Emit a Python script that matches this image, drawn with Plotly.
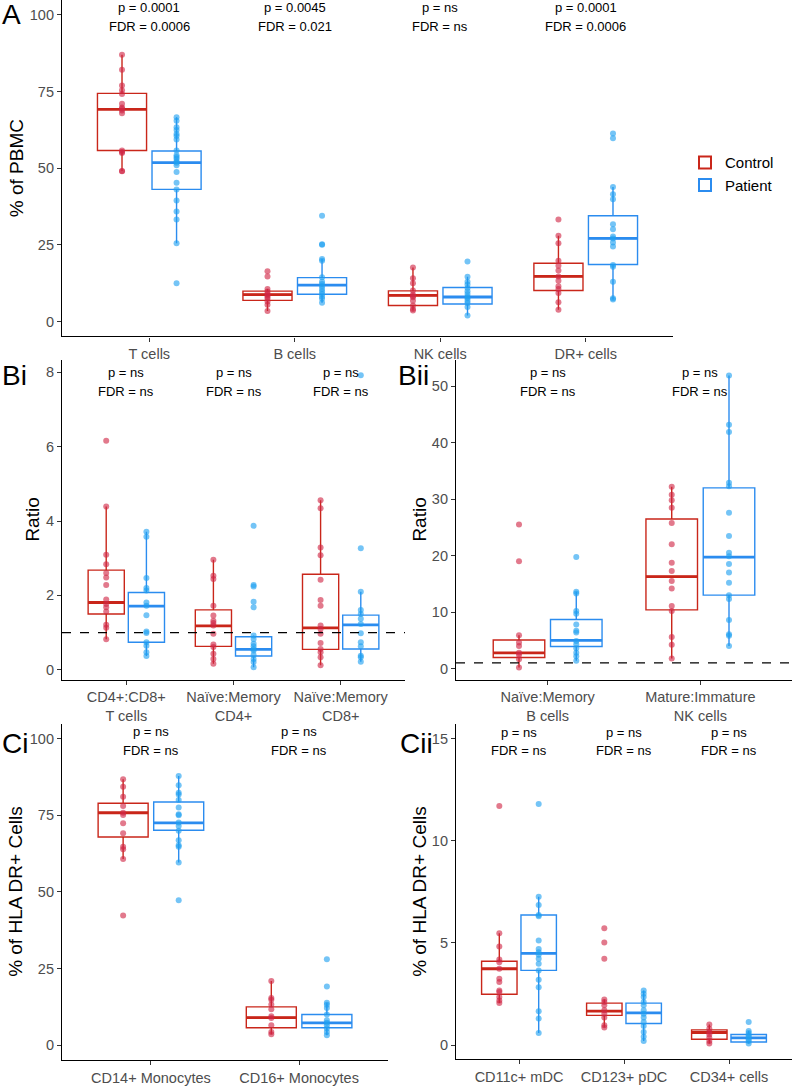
import plotly.graph_objects as go

# ---------------- data ----------------
# Panel A
a_cats = ["T cells", "B cells", "NK cells", "DR+ cells"]
a_ctrl_pts = [
    [87.0, 82.1, 77.0, 75.4, 74.2, 71.0, 69.8, 69.4, 68.8, 67.9, 55.8, 55.3, 55.0, 49.1, 49.0],
    [16.4, 14.7, 10.6, 9.8, 9.0, 8.6, 8.1, 7.4, 6.5, 5.5, 3.4],
    [17.6, 14.1, 12.5, 10.1, 8.7, 8.3, 7.9, 6.8, 5.2, 4.1, 3.6],
    [33.3, 28.0, 25.5, 19.8, 18.2, 16.6, 14.7, 13.3, 11.5, 10.6, 9.3, 6.3, 3.8],
]
a_pat_pts = [
    [66.6, 65.5, 63.4, 62.5, 61.2, 60.5, 59.4, 55.8, 54.2, 53.7, 53.1, 52.3, 51.8, 51.0,
     48.8, 45.3, 43.1, 39.5, 35.9, 33.3, 25.5, 12.5],
    [34.5, 25.2, 25.0, 20.4, 19.8, 14.4, 13.0, 12.2, 11.5, 10.6, 9.8, 9.0, 8.1, 7.4, 6.1],
    [19.6, 14.6, 13.0, 12.1, 10.9, 9.9, 9.0, 8.1, 7.6, 6.8, 6.0, 4.7, 1.95],
    [61.3, 59.8, 43.9, 41.5, 39.9, 31.7, 30.1, 27.7, 27.1, 25.8, 24.5, 18.4, 17.9, 13.0, 7.6, 7.2],
]
a_ctrl_q1 = [55.8, 6.9, 5.2, 10.1]
a_ctrl_med = [69.2, 8.8, 8.5, 14.7]
a_ctrl_q3 = [74.4, 9.9, 10.0, 19.0]
a_ctrl_lo = [49.1, 3.4, 3.6, 3.8]
a_ctrl_hi = [87.0, 10.6, 17.6, 28.0]
a_pat_q1 = [43.1, 8.9, 5.7, 18.6]
a_pat_med = [51.8, 11.9, 8.0, 27.1]
a_pat_q3 = [55.6, 14.3, 11.1, 34.5]
a_pat_lo = [25.5, 6.1, 1.95, 7.2]
a_pat_hi = [66.6, 20.4, 14.6, 43.9]
a_p = ["p = 0.0001", "p = 0.0045", "p = ns", "p = 0.0001"]
a_fdr = ["FDR = 0.0006", "FDR = 0.021", "FDR = ns", "FDR = 0.0006"]

# Panel Bi
bi_cats = ["CD4+:CD8+<br>T cells", "Naïve:Memory<br>CD4+", "Naïve:Memory<br>CD8+"]
bi_ctrl_pts = [
    [6.16, 4.39, 3.09, 2.84, 2.60, 2.48, 2.28, 1.89, 1.77, 1.68, 1.57, 1.21, 1.13, 0.82],
    [2.96, 2.53, 2.44, 1.72, 1.46, 1.32, 1.26, 1.19, 0.97, 0.68, 0.61, 0.43, 0.29, 0.16],
    [4.56, 4.34, 3.29, 3.08, 2.42, 1.88, 1.72, 1.19, 1.10, 0.97, 0.72, 0.56, 0.47, 0.34, 0.12],
]
bi_pat_pts = [
    [3.71, 3.58, 2.47, 2.20, 2.13, 1.81, 1.72, 1.47, 1.03, 0.99, 0.74, 0.65, 0.47, 0.37],
    [3.87, 2.28, 2.24, 1.83, 1.68, 0.92, 0.83, 0.70, 0.63, 0.56, 0.52, 0.40, 0.29, 0.21, 0.07],
    [7.92, 3.27, 2.10, 1.61, 1.50, 1.37, 1.23, 0.98, 0.74, 0.63, 0.38, 0.34, 0.22],
]
bi_ctrl_q1 = [1.50, 0.63, 0.55]
bi_ctrl_med = [1.81, 1.18, 1.13]
bi_ctrl_q3 = [2.68, 1.61, 2.57]
bi_ctrl_lo = [0.82, 0.16, 0.12]
bi_ctrl_hi = [4.39, 2.96, 4.56]
bi_pat_q1 = [0.74, 0.37, 0.56]
bi_pat_med = [1.71, 0.55, 1.21]
bi_pat_q3 = [2.08, 0.89, 1.47]
bi_pat_lo = [0.37, 0.07, 0.22]
bi_pat_hi = [3.71, 0.92, 2.10]
bi_p = ["p = ns", "p = ns", "p = ns"]
bi_fdr = ["FDR = ns", "FDR = ns", "FDR = ns"]

# Panel Bii
bii_cats = ["Naïve:Memory<br>B cells", "Mature:Immature<br>NK cells"]
bii_ctrl_pts = [
    [25.5, 19.0, 5.9, 4.6, 4.0, 2.8, 2.4, 1.65, 0.2],
    [32.2, 30.8, 29.8, 28.5, 25.8, 22.0, 18.75, 17.3, 15.5, 14.2, 11.1, 10.2, 5.6, 4.2, 1.8],
]
bii_pat_pts = [
    [19.75, 13.6, 13.3, 10.2, 9.7, 7.8, 6.7, 6.4, 4.9, 4.3, 3.6, 2.8, 2.2, 1.4],
    [51.9, 43.2, 41.9, 32.9, 32.3, 27.6, 23.5, 20.5, 19.9, 18.5, 17.0, 15.2, 13.0, 12.3,
     8.6, 6.1, 5.8, 4.0],
]
bii_ctrl_q1 = [1.95, 10.4]
bii_ctrl_med = [2.77, 16.3]
bii_ctrl_q3 = [5.07, 26.5]
bii_ctrl_lo = [0.2, 1.8]
bii_ctrl_hi = [5.9, 32.2]
bii_pat_q1 = [3.9, 13.0]
bii_pat_med = [5.0, 19.75]
bii_pat_q3 = [8.7, 32.0]
bii_pat_lo = [1.4, 4.0]
bii_pat_hi = [13.6, 51.9]
bii_p = ["p = ns", "p = ns"]
bii_fdr = ["FDR = ns", "FDR = ns"]

# Panel Ci
ci_cats = ["CD14+ Monocytes", "CD16+ Monocytes"]
ci_ctrl_pts = [
    [86.7, 84.3, 81.0, 78.0, 75.8, 75.1, 72.4, 69.1, 64.7, 63.9, 60.7, 42.3],
    [20.9, 15.4, 14.8, 13.3, 11.7, 9.4, 8.9, 6.5, 4.3, 3.6],
]
ci_pat_pts = [
    [87.8, 84.8, 82.3, 81.8, 80.0, 77.5, 75.3, 75.0, 72.6, 71.5, 69.9, 66.8, 65.2, 64.7, 59.6, 47.3],
    [28.0, 19.1, 13.8, 13.2, 12.1, 10.0, 8.1, 7.3, 6.5, 5.4, 4.3, 3.25],
]
ci_ctrl_q1 = [67.9, 5.7]
ci_ctrl_med = [75.8, 9.0]
ci_ctrl_q3 = [78.9, 12.5]
ci_ctrl_lo = [60.7, 3.6]
ci_ctrl_hi = [86.7, 20.9]
ci_pat_q1 = [70.1, 5.7]
ci_pat_med = [72.5, 7.3]
ci_pat_q3 = [79.3, 10.0]
ci_pat_lo = [59.6, 3.25]
ci_pat_hi = [87.8, 13.8]
ci_p = ["p = ns", "p = ns"]
ci_fdr = ["FDR = ns", "FDR = ns"]

# Panel Cii
cii_cats = ["CD11c+ mDC", "CD123+ pDC", "CD34+ cells"]
cii_ctrl_pts = [
    [11.7, 5.48, 4.83, 4.19, 4.06, 3.74, 3.25, 3.09, 2.68, 2.60, 2.36, 2.19, 2.06],
    [5.72, 5.02, 4.23, 2.23, 2.11, 1.95, 1.71, 1.54, 1.35, 0.98, 0.86],
    [1.01, 0.81, 0.65, 0.52, 0.36, 0.20, 0.08],
]
cii_pat_pts = [
    [11.8, 7.26, 6.86, 6.37, 6.31, 5.12, 4.71, 4.55, 4.42, 4.23, 3.98, 3.66, 3.20, 2.84,
     1.66, 1.30, 0.60],
    [2.68, 2.52, 2.36, 2.11, 1.95, 1.71, 1.54, 1.35, 1.14, 0.94, 0.65, 0.41, 0.20],
    [1.14, 0.70, 0.60, 0.49, 0.41, 0.29, 0.20, 0.08],
]
cii_ctrl_q1 = [2.49, 1.46, 0.29]
cii_ctrl_med = [3.74, 1.67, 0.62]
cii_ctrl_q3 = [4.11, 2.06, 0.75]
cii_ctrl_lo = [2.06, 0.86, 0.08]
cii_ctrl_hi = [5.48, 2.23, 1.01]
cii_pat_q1 = [3.66, 1.06, 0.16]
cii_pat_med = [4.49, 1.58, 0.36]
cii_pat_q3 = [6.37, 2.06, 0.52]
cii_pat_lo = [0.60, 0.20, 0.08]
cii_pat_hi = [7.26, 2.68, 0.70]
cii_p = ["p = ns", "p = ns", "p = ns"]
cii_fdr = ["FDR = ns", "FDR = ns", "FDR = ns"]

groups = ["Control", "Patient"]

# ---------------- styling ----------------
W, H = 792, 1086
FONT = "Liberation Sans, Arial, sans-serif"
LINE_C = {"Control": "#C9261A", "Patient": "#2B8CEF"}
PT_C = {"Control": "rgba(208, 38, 70, 0.62)", "Patient": "rgba(30, 160, 240, 0.62)"}
TICK_C = "#4D4D4D"

fig = go.Figure()


def ax_names(i):
    s = "" if i == 1 else str(i)
    return "x" + s, "y" + s


def add_group(i, cats, pts, q1, med, q3, lo, hi, name, show):
    xa, ya = ax_names(i)
    fig.add_trace(go.Box(
        x=cats, q1=q1, median=med, q3=q3, lowerfence=lo, upperfence=hi,
        orientation="v", name=name, legendgroup=name, showlegend=show,
        offsetgroup=name, boxpoints=False, whiskerwidth=0,
        line=dict(color=LINE_C[name], width=1.4),
        fillcolor="rgba(255,255,255,0)", hoverinfo="skip",
        xaxis=xa, yaxis=ya))
    # thicker median line
    fig.add_trace(go.Box(
        x=cats, q1=med, median=med, q3=med, lowerfence=med, upperfence=med,
        orientation="v", name=name, legendgroup=name, showlegend=False,
        offsetgroup=name, boxpoints=False, whiskerwidth=0,
        line=dict(color=LINE_C[name], width=2.8),
        fillcolor="rgba(255,255,255,0)", hoverinfo="skip",
        xaxis=xa, yaxis=ya))
    xs = [c for c, p in zip(cats, pts) for _ in p]
    ys = [v for p in pts for v in p]
    fig.add_trace(go.Box(
        x=xs, y=ys, name=name, legendgroup=name, showlegend=False,
        offsetgroup=name, boxpoints="all", jitter=0, pointpos=0, whiskerwidth=0,
        line=dict(color="rgba(0,0,0,0)", width=0),
        fillcolor="rgba(0,0,0,0)",
        marker=dict(color=PT_C[name], size=6, line=dict(width=0)),
        xaxis=xa, yaxis=ya))


panels = [
    (1, a_cats, a_ctrl_pts, a_ctrl_q1, a_ctrl_med, a_ctrl_q3, a_ctrl_lo, a_ctrl_hi,
     a_pat_pts, a_pat_q1, a_pat_med, a_pat_q3, a_pat_lo, a_pat_hi),
    (2, bi_cats, bi_ctrl_pts, bi_ctrl_q1, bi_ctrl_med, bi_ctrl_q3, bi_ctrl_lo, bi_ctrl_hi,
     bi_pat_pts, bi_pat_q1, bi_pat_med, bi_pat_q3, bi_pat_lo, bi_pat_hi),
    (3, bii_cats, bii_ctrl_pts, bii_ctrl_q1, bii_ctrl_med, bii_ctrl_q3, bii_ctrl_lo, bii_ctrl_hi,
     bii_pat_pts, bii_pat_q1, bii_pat_med, bii_pat_q3, bii_pat_lo, bii_pat_hi),
    (4, ci_cats, ci_ctrl_pts, ci_ctrl_q1, ci_ctrl_med, ci_ctrl_q3, ci_ctrl_lo, ci_ctrl_hi,
     ci_pat_pts, ci_pat_q1, ci_pat_med, ci_pat_q3, ci_pat_lo, ci_pat_hi),
    (5, cii_cats, cii_ctrl_pts, cii_ctrl_q1, cii_ctrl_med, cii_ctrl_q3, cii_ctrl_lo, cii_ctrl_hi,
     cii_pat_pts, cii_pat_q1, cii_pat_med, cii_pat_q3, cii_pat_lo, cii_pat_hi),
]

for p in panels:
    i, cats = p[0], p[1]
    add_group(i, cats, p[2], p[3], p[4], p[5], p[6], p[7], "Control", i == 1)
    add_group(i, cats, p[8], p[9], p[10], p[11], p[12], p[13], "Patient", i == 1)

# ---------------- layout geometry (pixels) ----------------
def xd(a, b):
    return [a / W, b / W]


def yd(top, bottom):
    return [1 - bottom / H, 1 - top / H]


axis_geo = {
    1: dict(xdom=xd(62, 673), ydom=yd(0, 338), yr=[-4.87, 104.87], tv=[0, 25, 50, 75, 100], n=4),
    2: dict(xdom=xd(62, 405), ydom=yd(362, 683), yr=[-0.27, 8.32], tv=[0, 2, 4, 6, 8], n=3),
    3: dict(xdom=xd(456, 792), ydom=yd(362, 683), yr=[-2.0, 54.6], tv=[0, 10, 20, 30, 40, 50], n=2),
    4: dict(xdom=xd(62, 388), ydom=yd(727, 1065), yr=[-4.87, 104.87], tv=[0, 25, 50, 75, 100], n=2),
    5: dict(xdom=xd(456, 792), ydom=yd(727, 1064), yr=[-0.68, 15.73], tv=[0, 5, 10, 15], n=3),
}
cat_lists = {1: a_cats, 2: bi_cats, 3: bii_cats, 4: ci_cats, 5: cii_cats}

layout = dict(
    width=W, height=H, margin=dict(l=0, r=0, t=0, b=0),
    paper_bgcolor="white", plot_bgcolor="white",
    font=dict(family=FONT, color="black"),
    boxmode="group", boxgap=0.25, boxgroupgap=0.1,
    showlegend=True,
    legend=dict(x=685 / W, y=1 - 147 / H, xanchor="left", yanchor="top",
                font=dict(size=15, color="black", family=FONT),
                bgcolor="rgba(0,0,0,0)", tracegroupgap=0, itemsizing="constant"),
)
for i, g in axis_geo.items():
    s = "" if i == 1 else str(i)
    layout["xaxis" + s] = dict(
        domain=g["xdom"], anchor="y" + s, type="category",
        categoryorder="array", categoryarray=cat_lists[i],
        range=[-0.6, g["n"] - 0.4],
        showline=True, linecolor="black", linewidth=1.2,
        ticks="outside", ticklen=4, tickwidth=1.1, tickcolor="#333333",
        showgrid=False, zeroline=False, fixedrange=True,
        tickfont=dict(size=14.5, color=TICK_C, family=FONT))
    layout["yaxis" + s] = dict(
        domain=g["ydom"], anchor="x" + s, range=g["yr"],
        tickvals=g["tv"], ticktext=[str(v) for v in g["tv"]],
        showline=True, linecolor="black", linewidth=1.2,
        ticks="outside", ticklen=4, tickwidth=1.1, tickcolor="#333333",
        showgrid=False, zeroline=False, fixedrange=True,
        tickfont=dict(size=14.5, color=TICK_C, family=FONT))

fig.update_layout(**layout)

# dashed reference line at ratio = 1
for i in (2, 3):
    fig.add_shape(type="line", xref=f"x{i} domain", yref=f"y{i}", x0=0, x1=1, y0=1, y1=1,
                  line=dict(color="black", width=1.1, dash="dash"))

# p / FDR labels
stat_text = {1: (a_p, a_fdr, 102.3, 96.1), 2: (bi_p, bi_fdr, 8.0, 7.49),
             3: (bii_p, bii_fdr, 52.5, 49.1), 4: (ci_p, ci_fdr, 102.3, 96.1),
             5: (cii_p, cii_fdr, 15.3, 14.4)}
for i, (ps, fs, yp, yf) in stat_text.items():
    s = "" if i == 1 else str(i)
    for c, pt, ft in zip(cat_lists[i], ps, fs):
        for txt, yy in ((pt, yp), (ft, yf)):
            fig.add_annotation(x=c, y=yy, xref="x" + s, yref="y" + s, text=txt,
                               showarrow=False, xanchor="center", yanchor="middle",
                               font=dict(size=13, color="black", family=FONT))

# axis titles
titles = [("% of PBMC", 16, 169), ("Ratio", 33, 522), ("Ratio", 420, 522),
          ("% of HLA DR+ Cells", 16, 896), ("% of HLA DR+ Cells", 420, 896)]
for txt, px, py in titles:
    fig.add_annotation(x=px / W, y=1 - py / H, xref="paper", yref="paper", text=txt,
                       showarrow=False, textangle=-90, xanchor="center", yanchor="middle",
                       font=dict(size=19, color="black", family=FONT))

# panel labels
plabels = [("A", 0, 15), ("Bi", 0, 377), ("Bii", 396, 377), ("Ci", 0, 747), ("Cii", 398, 747)]
for txt, px, py in plabels:
    fig.add_annotation(x=px / W, y=1 - py / H, xref="paper", yref="paper", text=txt,
                       showarrow=False, xanchor="left", yanchor="middle",
                       font=dict(size=28, color="black", family=FONT))

# remove the default page margin so the 792x1086 figure fills the window exactly
fig.write_html("out.html", config={"displayModeBar": False},
               post_script="document.body.style.margin='0px';")
